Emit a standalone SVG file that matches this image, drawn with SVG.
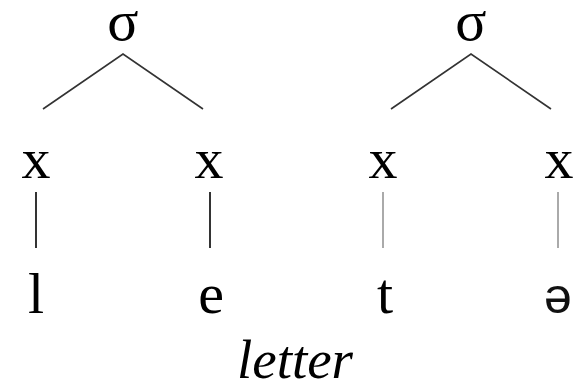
<svg xmlns="http://www.w3.org/2000/svg" width="585" height="389" viewBox="0 0 585 389">
<style>
.t{font-family:"Liberation Serif","Times New Roman",serif;font-size:58px;fill:#000;text-anchor:middle}
.s{font-family:"Liberation Sans",Arial,sans-serif;font-size:50px;fill:#111;text-anchor:middle}
.i{font-family:"Liberation Serif","Times New Roman",serif;font-size:55px;font-style:italic;fill:#000;text-anchor:middle}
.e{stroke:#333;stroke-width:1.6;fill:none}
.a{stroke:#000;stroke-width:1.6}
.g{stroke:#aaa;stroke-width:2}
</style>
<rect width="585" height="389" fill="#fff"/>
<g id="connectors">
<path class="e" d="M43 109 L123 54 L203 109"/>
<path class="e" d="M391 109 L471 54 L551 109"/>
<line class="a" x1="36" y1="192" x2="36" y2="248"/>
<line class="a" x1="210" y1="192" x2="210" y2="248"/>
<line class="g" x1="383" y1="192" x2="383" y2="248"/>
<line class="g" x1="558" y1="192" x2="558" y2="248"/>
</g>
<g id="sigma1"><text class="t" x="123" y="40">σ</text></g>
<g id="sigma2"><text class="t" x="471" y="40">σ</text></g>
<g id="x1"><text class="t" x="36" y="178">x</text></g>
<g id="x2"><text class="t" x="209" y="178">x</text></g>
<g id="x3"><text class="t" x="383" y="178">x</text></g>
<g id="x4"><text class="t" x="559" y="178">x</text></g>
<g id="seg-l"><text class="t" x="36" y="313">l</text></g>
<g id="seg-e"><text class="t" x="211" y="313">e</text></g>
<g id="seg-t"><text class="t" x="385" y="313">t</text></g>
<g id="seg-schwa"><text class="s" x="558" y="313">ə</text></g>
<g id="caption"><text class="i" x="295" y="378">letter</text></g>
</svg>
